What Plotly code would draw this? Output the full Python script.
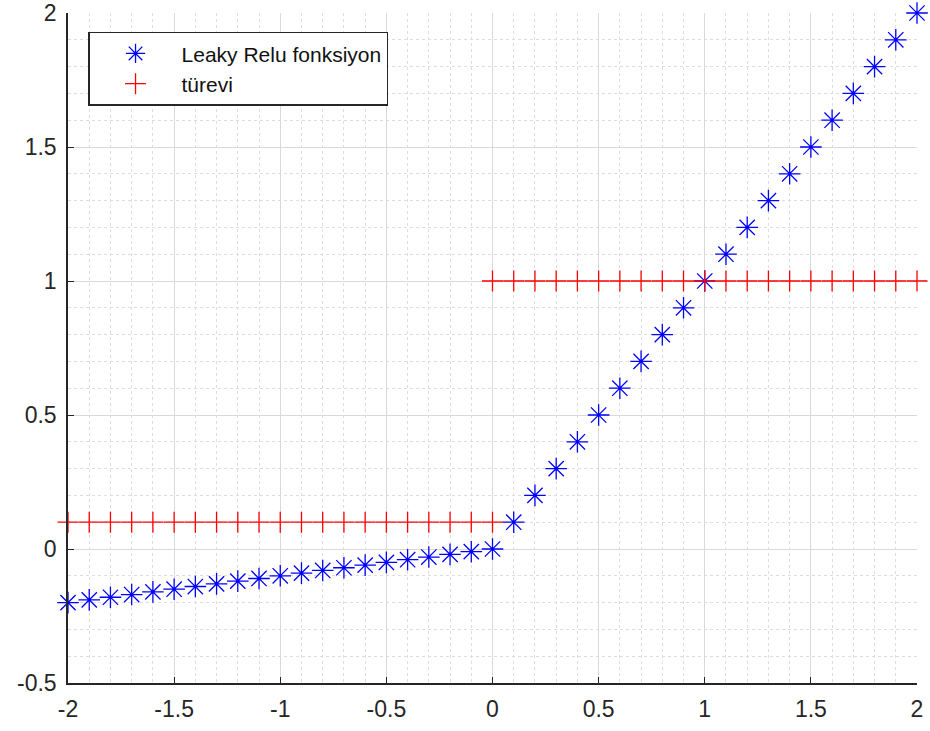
import plotly.graph_objects as go

x_vals = [round(-2 + 0.1 * i, 1) for i in range(41)]
leaky_relu = [-0.2, -0.19, -0.18, -0.17, -0.16, -0.15, -0.14, -0.13, -0.12, -0.11,
              -0.1, -0.09, -0.08, -0.07, -0.06, -0.05, -0.04, -0.03, -0.02, -0.01,
              0.0, 0.1, 0.2, 0.3, 0.4, 0.5, 0.6, 0.7, 0.8, 0.9,
              1.0, 1.1, 1.2, 1.3, 1.4, 1.5, 1.6, 1.7, 1.8, 1.9, 2.0]

deriv_x = x_vals[:21] + x_vals[20:]
deriv_y = [0.1] * 21 + [1.0] * 21

x_ticks = [-2, -1.5, -1, -0.5, 0, 0.5, 1, 1.5, 2]
x_tick_text = ["-2", "-1.5", "-1", "-0.5", "0", "0.5", "1", "1.5", "2"]
y_ticks = [-0.5, 0, 0.5, 1, 1.5, 2]
y_tick_text = ["-0.5", "0", "0.5", "1", "1.5", "2"]

fig = go.Figure()
fig.add_trace(go.Scatter(
    x=x_vals, y=leaky_relu, mode="markers", name="Leaky Relu fonksiyon",
    marker=dict(symbol="asterisk-open", size=18, color="#0000ff",
                line=dict(color="#0000ff", width=1.3)),
    cliponaxis=False,
))
fig.add_trace(go.Scatter(
    x=deriv_x, y=deriv_y, mode="markers", name="türevi",
    marker=dict(symbol="cross-thin-open", size=15, color="#ff0000",
                line=dict(color="#ff0000", width=1.3)),
    cliponaxis=False,
))

font_family = "Liberation Sans, Arial, Helvetica, sans-serif"
axis_common = dict(
    showline=True, linecolor="#262626", linewidth=1.5,
    ticks="inside", ticklen=6, tickcolor="#262626", tickwidth=1.2,
    showgrid=True, gridcolor="#d9d9d9", gridwidth=1,
    zeroline=False, mirror=False, automargin=False,
    tickfont=dict(family=font_family, size=23, color="#262626"),
    ticklabeloverflow="allow", ticklabelstandoff=5,
    minor=dict(dtick=0.1, showgrid=True, gridcolor="#dedede", griddash="dot",
               gridwidth=1, ticks=""),
)

fig.update_xaxes(range=[-2, 2], tickmode="array", tickvals=x_ticks,
                 ticktext=x_tick_text, **axis_common)
fig.update_yaxes(range=[-0.5, 2], tickmode="array", tickvals=y_ticks,
                 ticktext=y_tick_text, **axis_common)

fig.update_layout(
    width=930, height=731,
    margin=dict(l=68, r=13, t=13, b=48),
    plot_bgcolor="white", paper_bgcolor="white",
    font=dict(family=font_family, color="#262626"),
    showlegend=True,
    legend=dict(
        x=0.0236, y=0.972, xanchor="left", yanchor="top",
        bgcolor="white", bordercolor="#262626", borderwidth=1.5,
        font=dict(family=font_family, size=21, color="#111111"),
        itemwidth=82, tracegroupgap=0, entrywidth=240, entrywidthmode="pixels",
    ),
)

fig.write_html("out.html")
